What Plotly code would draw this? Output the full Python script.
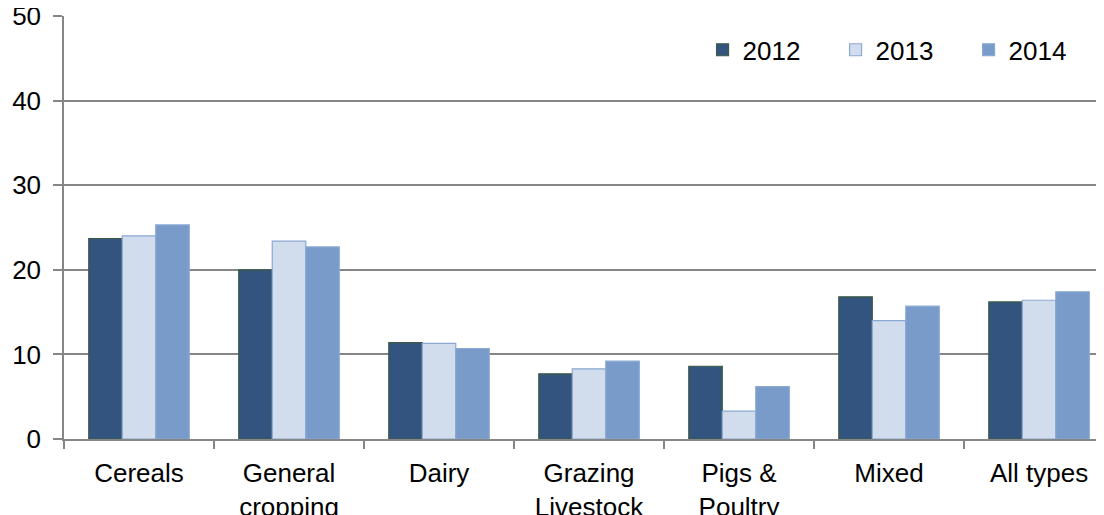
import plotly.graph_objects as go

# ---- Data ----
categories = ["Cereals", "General<br>cropping", "Dairy", "Grazing<br>Livestock",
              "Pigs &<br>Poultry", "Mixed", "All types"]
years = ["2012", "2013", "2014"]
vals_2012 = [23.7, 20.0, 11.4, 7.7, 8.6, 16.8, 16.2]
vals_2013 = [24.0, 23.4, 11.3, 8.3, 3.3, 14.0, 16.4]
vals_2014 = [25.3, 22.7, 10.7, 9.2, 6.2, 15.7, 17.4]

series = [vals_2012, vals_2013, vals_2014]
fills = ["#33547e", "#d1dcec", "#799bc9"]
edges = ["#3d5a45", "#8aa8d2", "#8aa8d2"]

fig = go.Figure()
for year, vals, fc, ec in zip(years, series, fills, edges):
    fig.add_trace(go.Bar(
        x=categories,
        y=vals,
        name=year,
        marker=dict(color=fc, line=dict(color=ec, width=1.2)),
    ))

# the page body adds an 8px offset, margins are set to account for it
fig.update_layout(
    width=1104,
    height=515,
    barmode="group",
    bargap=0.33,
    bargroupgap=0,
    plot_bgcolor="white",
    paper_bgcolor="white",
    font=dict(family="Liberation Sans, Arial, sans-serif", size=26, color="black"),
    margin=dict(l=56, r=8, t=8, b=84, autoexpand=False),
    xaxis=dict(
        range=[-0.5, 6.433],
        automargin=False,
        showgrid=False,
        showline=True,
        linecolor="#868686",
        linewidth=1.5,
        ticks="outside",
        tickson="boundaries",
        ticklen=8,
        tickcolor="#868686",
        tickwidth=1.5,
        ticklabelstandoff=10,
        ticklabeloverflow="allow",
        tickfont=dict(size=26),
    ),
    yaxis=dict(
        range=[0, 50],
        dtick=10,
        automargin=False,
        showgrid=True,
        gridcolor="#868686",
        gridwidth=1.5,
        zeroline=False,
        showline=True,
        linecolor="#868686",
        linewidth=1.5,
        ticks="outside",
        ticklen=9,
        tickcolor="#868686",
        tickwidth=1.5,
        ticklabelstandoff=7,
        ticklabeloverflow="allow",
        tickfont=dict(size=26),
    ),
    legend=dict(
        orientation="h",
        x=0.614,
        y=0.92,
        xanchor="left",
        yanchor="middle",
        font=dict(size=26),
        itemwidth=30,
        entrywidth=88,
        traceorder="normal",
        bgcolor="rgba(0,0,0,0)",
    ),
    showlegend=True,
)

fig.write_html("out.html")
